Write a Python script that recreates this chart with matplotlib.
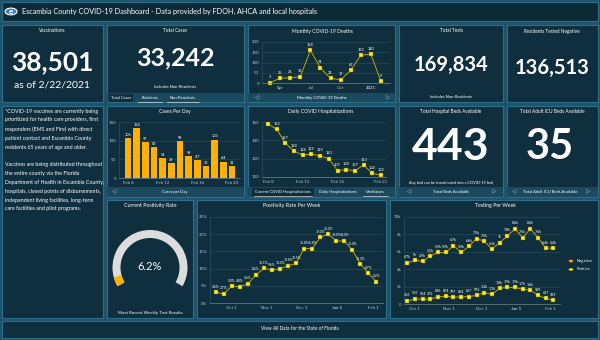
import matplotlib
matplotlib.use('Agg')
import matplotlib.pyplot as plt
from matplotlib.patches import Rectangle, Wedge, Circle
import pandas as pd

plt.rcParams['font.family'] = ['Lato', 'DejaVu Sans']

# ---- data ----
deaths_months = ['Mar', 'Apr', 'May', 'Jun', 'Jul', 'Aug', 'Sep', 'Oct', 'Nov', 'Dec', '2021', 'Feb']
deaths_values = [3, 25, 26, 32, 158, 74, 24, 17, 62, 135, 140, 9]
deaths_ticks = ['Apr', 'Jul', 'Oct', '2021']

cases_days = ['Feb 8', 'Feb 9', 'Feb 10', 'Feb 11', 'Feb 12', 'Feb 13', 'Feb 14',
              'Feb 15', 'Feb 16', 'Feb 17', 'Feb 18', 'Feb 19', 'Feb 20']
cases_values = [106, 134, 97, 83, 54, 39, 98, 59, 47, 33, 103, 44, 31]
cases_ticks = ['Feb 8', 'Feb 12', 'Feb 16', 'Feb 20']

hosp_days = ['Feb 8', 'Feb 9', 'Feb 10', 'Feb 11', 'Feb 12', 'Feb 13', 'Feb 14',
             'Feb 15', 'Feb 16', 'Feb 17', 'Feb 18', 'Feb 19', 'Feb 20', 'Feb 21']
hosp_values = [158, 152, 137, 128, 124, 125, 123, 120, 107, 108, 107, 113, 104, 102]
hosp_ticks = ['Feb 8', 'Feb 12', 'Feb 16', 'Feb 21']

pos_weeks = ['2020-09-17', '2020-09-24', '2020-10-01', '2020-10-08', '2020-10-15',
             '2020-10-22', '2020-10-29', '2020-11-05', '2020-11-12', '2020-11-19',
             '2020-11-26', '2020-12-03', '2020-12-10', '2020-12-17', '2020-12-24',
             '2020-12-31', '2021-01-07', '2021-01-14', '2021-01-21', '2021-01-28',
             '2021-02-04']
pos_rate = [3.2, 2.7, 5.0, 4.8, 5.6, 8.2, 10.1, 9.6, 10.0, 10.8, 11.5, 15.8, 15.8,
            19.0, 20.0, 18.0, 18.0, 15.4, 11.3, 8.7, 6.2]

test_weeks = pos_weeks[1:]
test_negative = [4700, 5000, 4900, 5500, 5900, 5900, 6700, 5900, 6600, 7500, 7200,
                 6300, 7000, 7800, 8600, 7600, 8600, 7600, 6400, 6400]
test_positive = [356, 576, 554, 572, 826, 874, 797, 804, 857, 976, 1300, 1100, 1800,
                 1900, 1900, 1700, 1600, 989, 647, 429]

month_ticks = ['2020-10-01', '2020-11-01', '2020-12-01', '2021-01-01', '2021-02-01']
month_labels = ['Oct 1', 'Nov 1', 'Dec 1', 'Jan 1', 'Feb 1']

current_positivity = 6.2

# ---- style ----
W, H = 600, 340
BG = '#1f536b'
PANEL = '#0f2f3e'
EDGE = '#2d6f8b'
STRIP = '#1b4a5f'
TICK = '#b9c6cc'
GRID = '#2a4f60'
AMBER = '#ffb000'
LINE = '#d8b800'
MARK = '#ffee1a'
SYMS = ['Lato', 'DejaVu Sans']

fig = plt.figure(figsize=(6, 3.4), dpi=100, facecolor=BG)


def box(x0, y0, x1, y1, fc=PANEL, ec=EDGE, lw=0.8, z=-2):
    fig.patches.append(Rectangle((x0 / W, 1 - y1 / H), (x1 - x0) / W, (y1 - y0) / H,
                                 transform=fig.transFigure, fc=fc, ec=ec, lw=lw, zorder=z))


def strip(x0, y0, x1, y1, fc=STRIP):
    box(x0, y0, x1, y1, fc=fc, ec='none', lw=0, z=-1)


def txt(x, y, s, size, color='white', ha='center', **kw):
    fig.text(x / W, 1 - y / H, s, fontsize=size, color=color, ha=ha, va='center', **kw)


def chart(x0, y0, x1, y1):
    ax = fig.add_axes([x0 / W, 1 - y1 / H, (x1 - x0) / W, (y1 - y0) / H])
    ax.set_facecolor('none')
    for s in ['top', 'right']:
        ax.spines[s].set_visible(False)
    ax.spines['left'].set_color(GRID)
    ax.spines['bottom'].set_color('#6f8791')
    ax.spines['left'].set_linewidth(0.5)
    ax.spines['bottom'].set_linewidth(0.5)
    ax.tick_params(colors=TICK, labelsize=3.2, length=0, pad=2)
    ax.grid(axis='y', color=GRID, lw=0.4)
    ax.set_axisbelow(True)
    return ax


def nav(x0, x1, y):
    txt(x0, y, '◁', 4, color=TICK, family=SYMS)
    txt(x1, y, '▷', 4, color=TICK, family=SYMS)


def point_labels(ax, xs, ys, labels, dy=2.5, size=2.8):
    for x, y, s in zip(xs, ys, labels):
        ax.annotate(s, (x, y), xytext=(0, dy), textcoords='offset points',
                    ha='center', va='bottom', fontsize=size, color='white',
                    annotation_clip=False)


def line_marks(ax, xs, ys):
    ax.plot(xs, ys, color=LINE, lw=0.6, marker='s', ms=2.2,
            mfc=MARK, mec='#6b5b00', mew=0.3, clip_on=False)


# ---- panels ----
box(2, 2, 598, 21, fc='#0d2a37')
box(2, 25, 103, 102)
box(107, 25, 244, 102)
box(248, 25, 395, 102)
box(399, 25, 503, 102)
box(507, 25, 598, 102)
box(2, 106, 103, 318)
box(107, 106, 244, 197)
box(248, 106, 395, 197)
box(399, 106, 503, 197)
box(507, 106, 598, 197)
box(107, 200, 193, 318)
box(197, 200, 386, 318)
box(390, 200, 598, 318)
box(2, 321, 598, 338)

# header
fig.patches.append(Circle((11 / W, 1 - 11.5 / H), 6 / W, transform=fig.transFigure,
                          fc='#3b7fb8', ec='white', lw=0.8))
txt(11, 11.5, 'e', 6, weight='bold')
txt(22, 11.5, 'Escambia County COVID-19 Dashboard - Data provided by FDOH, AHCA and local hospitals',
    5.2, ha='left')

# vaccinations
txt(52, 31, 'Vaccinations', 3.4)
txt(52, 62, '38,501', 19, weight='bold')
txt(52, 85, 'as of 2/22/2021', 7.5)

# total cases
txt(175, 31, 'Total Cases', 3.4)
txt(175, 58, '33,242', 18, weight='bold')
txt(175, 87, 'Includes Non-Residents', 3)
strip(107, 93, 244, 102)
strip(109, 94, 133, 102, fc=PANEL)
txt(121, 98, 'Total Cases', 2.9)
txt(150, 98, 'Residents', 2.9)
txt(183, 98, 'Non-Residents', 2.9)
fig.add_artist(plt.Line2D([138 / W, 162 / W], [1 - 101.5 / H] * 2, color='white', lw=0.4))
fig.add_artist(plt.Line2D([167 / W, 199 / W], [1 - 101.5 / H] * 2, color='white', lw=0.4))

# monthly deaths
txt(322, 31, 'Monthly COVID-19 Deaths', 3.6)
ax = chart(262, 41.7, 390, 83.3)
mx = list(range(len(deaths_months)))
line_marks(ax, mx, deaths_values)
point_labels(ax, mx, deaths_values, [str(v) for v in deaths_values])
ax.set_ylim(0, 200)
ax.set_yticks([0, 50, 100, 150, 200])
ax.set_xlim(-0.8, 11.9)
ax.set_xticks([deaths_months.index(m) for m in deaths_ticks])
ax.set_xticklabels(deaths_ticks)
ax.get_xticklabels()[-1].set_fontweight('bold')
strip(248, 93, 395, 102)
txt(322, 97.5, 'Monthly COVID-19 Deaths', 3)
nav(256, 388, 97.5)

# total tests
txt(451, 31, 'Total Tests', 3.4)
txt(451, 65, '169,834', 14.5, weight='bold')
txt(451, 97, 'Includes Non-Residents', 3)

# residents tested negative
txt(552, 31, 'Residents Tested Negative', 3.4)
txt(552, 68, '136,513', 14.5, weight='bold')

# vaccine note
note = ('*COVID-19 vaccines are currently being\n'
        'prioritized for health care providers, first\n'
        'responders (EMS and Fire) with direct\n'
        'patient contact and Escambia County\n'
        'residents 65 years of age and older.\n\n'
        'Vaccines are being distributed throughout\n'
        'the entire county via the Florida\n'
        'Department of Health in Escambia County,\n'
        'hospitals, closed points of disbursements,\n'
        'independent living facilities, long-term\n'
        'care facilities and pilot programs.')
fig.text(5 / W, 1 - 108.5 / H, note, fontsize=3.75, color='white', ha='left', va='top',
         linespacing=1.95)

# cases per day
txt(175, 112, 'Cases Per Day', 3.6)
ax = chart(119, 122, 240, 178)
cx = list(range(len(cases_days)))
ax.bar(cx, cases_values, width=0.8, color=AMBER, zorder=2)
point_labels(ax, cx, cases_values, [str(v) for v in cases_values], dy=0.8)
ax.set_ylim(0, 150)
ax.set_yticks([0, 50, 100, 150])
ax.set_xlim(-1.04, 12.92)
ax.set_xticks([cases_days.index(d) for d in cases_ticks])
ax.set_xticklabels(cases_ticks)
strip(107, 187, 244, 197)
txt(175, 192, 'Cases per Day', 3)
txt(113, 192, '◁', 4, color=TICK, family=SYMS)

# daily hospitalizations
txt(321, 112, 'Daily COVID Hospitalizations', 3.6)
ax = chart(262, 122, 386, 177)
hx = list(range(len(hosp_days)))
line_marks(ax, hx, hosp_values)
point_labels(ax, hx[1:], hosp_values[1:], [str(v) for v in hosp_values[1:]])
ax.set_ylim(100, 160)
ax.set_yticks([100, 120, 140, 160])
ax.set_xlim(-0.69, 13.58)
ax.set_xticks([hosp_days.index(d) for d in hosp_ticks])
ax.set_xticklabels(hosp_ticks)
strip(248, 187, 395, 197)
strip(252, 188, 314, 197, fc=PANEL)
txt(283, 192, 'Current COVID Hospitalizations', 2.9)
txt(338, 192, 'Daily Hospitalizations', 2.9)
txt(375, 192, 'Ventilators', 2.9)
fig.add_artist(plt.Line2D([254 / W, 312 / W], [1 - 196 / H] * 2, color='white', lw=0.4))
fig.add_artist(plt.Line2D([363 / W, 388 / W], [1 - 196 / H] * 2, color='white', lw=0.4))

# hospital beds
txt(451, 112, 'Total Hospital Beds Available', 3.4)
txt(451, 147, '443', 32, weight='bold')
txt(451, 183, 'Any bed can be transitioned into a COVID-19 bed', 2.8)
strip(399, 187, 503, 197)
txt(451, 192, 'Total Beds Available', 3)
nav(408, 494, 192)

# icu beds
txt(552, 112, 'Total Adult ICU Beds Available', 3.4)
txt(550, 147, '35', 30, weight='bold')
strip(507, 187, 598, 197)
txt(550, 192, 'Total Adult ICU Beds Available', 3)
nav(513, 588, 192)

# current positivity gauge
txt(150, 205, 'Current Positivity Rate', 3.8)
gx = fig.add_axes([107 / W, 1 - 318 / H, 86 / W, 118 / H])
gx.set_xlim(107, 193)
gx.set_ylim(318, 200)
gx.axis('off')
start, sweep = 210, 240
# y axis is flipped, so angles run clockwise on screen
gx.add_patch(Wedge((150, 267.5), 37.5, 360 - start, 360 - start + sweep, width=8,
                   fc='#dcdcdc', ec='none'))
gx.add_patch(Wedge((150, 267.5), 37.5, 360 - start,
                   360 - start + sweep * current_positivity / 100, width=8,
                   fc=AMBER, ec='none'))
txt(150, 267, f'{current_positivity}%', 8)
txt(150, 313, 'Most Recent Weekly Test Results', 3.2)

# positivity rate per week
oct1 = pd.Timestamp('2020-10-01')
txt(292, 205, 'Positivity Rate Per Week', 3.8)
ax = chart(210, 216.7, 383, 303.3)
px = [(pd.Timestamp(d) - oct1).days for d in pos_weeks]
line_marks(ax, px, pos_rate)
point_labels(ax, px, pos_rate, [f'{v}%' for v in pos_rate], size=2.4)
ax.set_ylim(0, 25)
ax.set_yticks([0, 5, 10, 15, 20, 25])
ax.set_yticklabels([f'{v}%' for v in [0, 5, 10, 15, 20, 25]])
ax.set_xlim(-18.9, 131.7)
ax.set_xticks([(pd.Timestamp(d) - oct1).days for d in month_ticks])
ax.set_xticklabels(month_labels)
ax.get_xticklabels()[3].set_fontweight('bold')


def k_label(v):
    if v < 1000:
        return str(v)
    return f'{v / 1000:.1f}'.rstrip('0').rstrip('.') + 'k'


# testing per week
txt(495, 205, 'Testing Per Week', 3.8)
ax = chart(404, 216.7, 560, 304)
tx = [(pd.Timestamp(d) - oct1).days for d in test_weeks]
line_marks(ax, tx, test_negative)
line_marks(ax, tx, test_positive)
point_labels(ax, tx, test_negative, [k_label(v) for v in test_negative], size=2.6)
point_labels(ax, tx, test_positive, [k_label(v) for v in test_positive], size=2.6)
ax.set_ylim(0, 10000)
ax.set_yticks([0, 2000, 4000, 6000, 8000, 10000])
ax.set_yticklabels(['0', '2k', '4k', '6k', '8k', '10k'])
ax.set_xlim(-10, 132)
ax.set_xticks([(pd.Timestamp(d) - oct1).days for d in month_ticks])
ax.set_xticklabels(month_labels)
ax.get_xticklabels()[3].set_fontweight('bold')
fig.patches.append(Circle((571 / W, 1 - 261 / H), 2.2 / W, transform=fig.transFigure,
                          fc=AMBER, ec='#8a6000', lw=0.3))
fig.patches.append(Circle((571 / W, 1 - 269.5 / H), 2.2 / W, transform=fig.transFigure,
                          fc=MARK, ec='#8a8000', lw=0.3))
txt(577, 261, 'Negative', 2.9, ha='left')
txt(577, 269.5, 'Positive', 2.9, ha='left')

# footer
txt(300, 329, 'View All Data for the State of Florida', 3.4)

fig.savefig('out.png', dpi=100, facecolor=BG)
